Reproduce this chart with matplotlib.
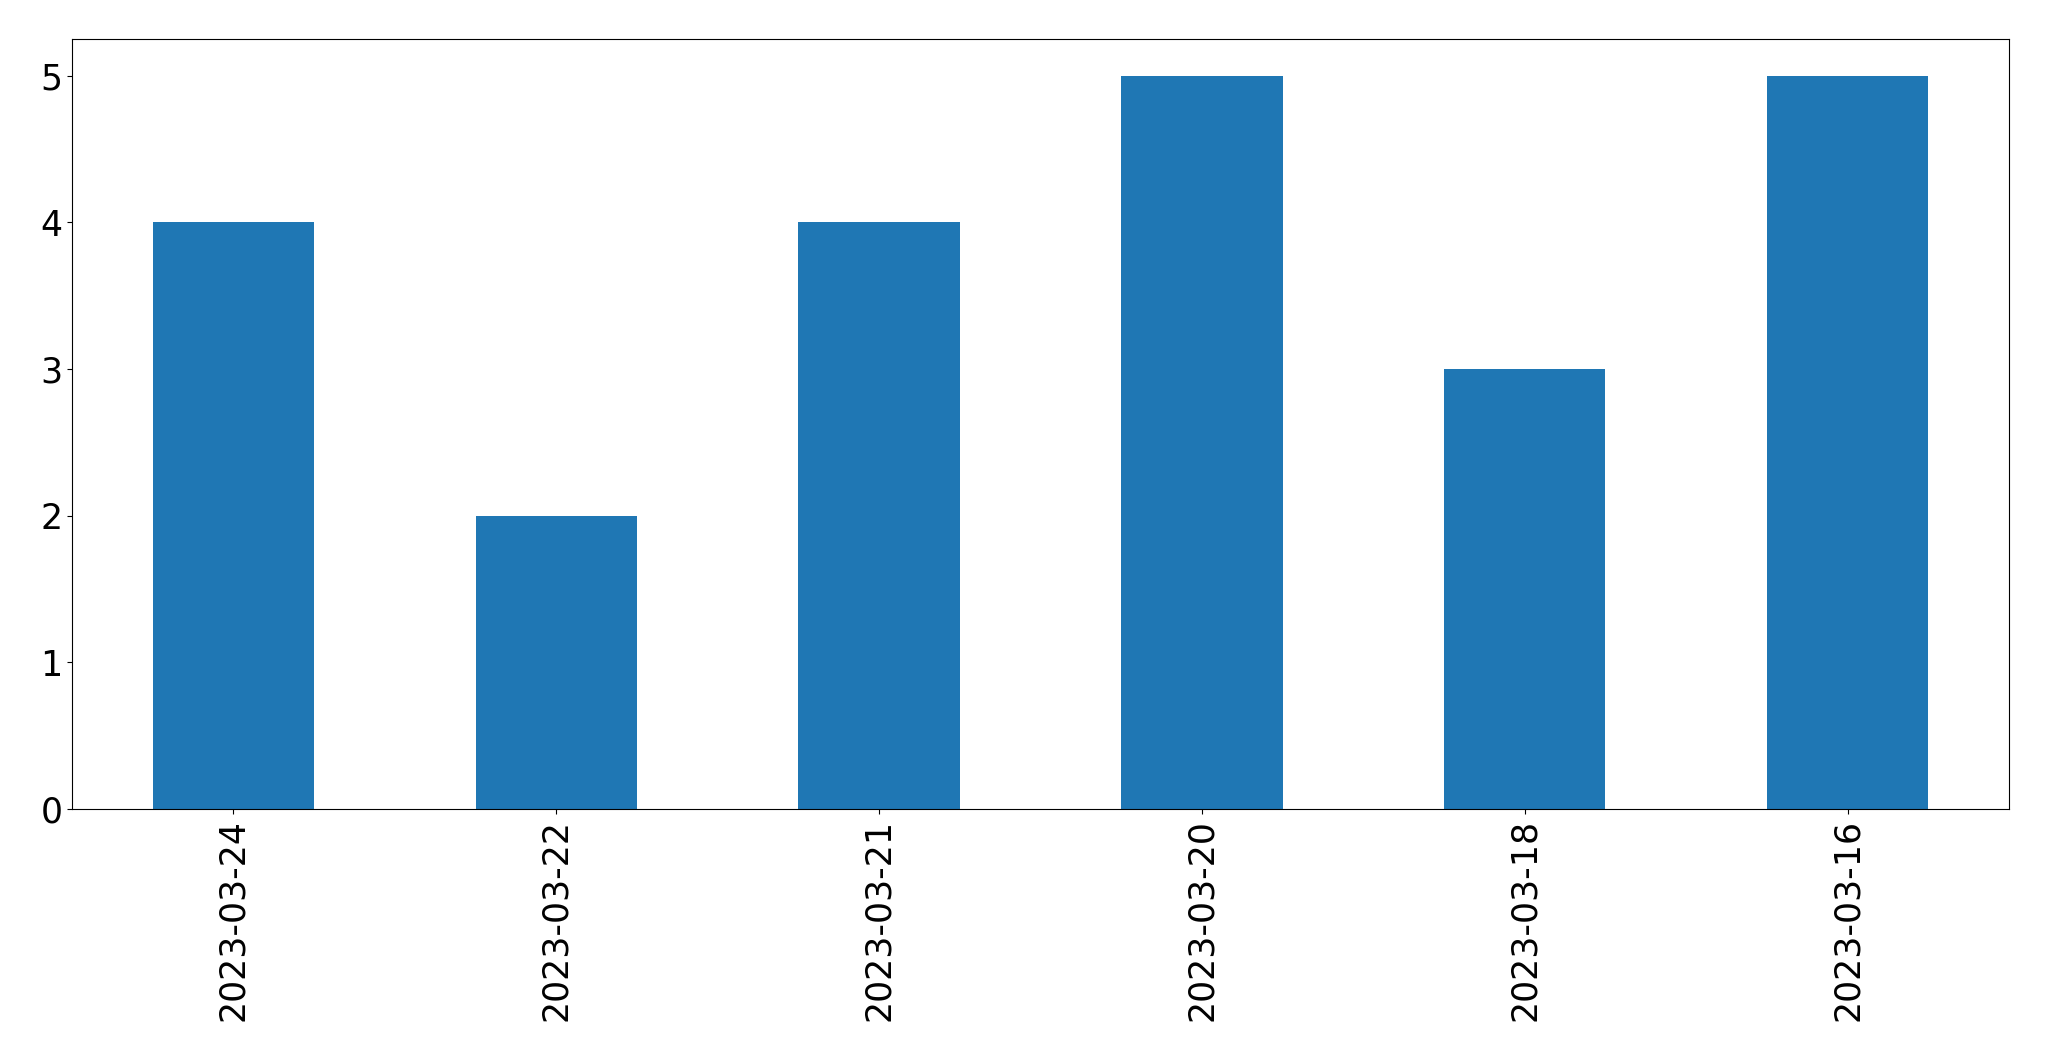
import matplotlib
matplotlib.use("Agg")
import matplotlib.pyplot as plt

dates = ["2023-03-24", "2023-03-22", "2023-03-21", "2023-03-20", "2023-03-18", "2023-03-16"]
counts = [4, 2, 4, 5, 3, 5]

fig = plt.figure(figsize=(20.49, 10.61), dpi=100)
ax = fig.add_axes([72/2049, 1-809/1061, (2009-72)/2049, (809-39)/1061])
x = list(range(len(dates)))
ax.bar(x, counts, width=0.5, color="#1f77b4")
ax.set_xlim(-0.5, len(dates)-0.5)
ax.set_ylim(0, max(counts)*1.05)
ax.set_xticks(x)
ax.set_xticklabels(dates, rotation=90)
ax.tick_params(labelsize=25)
fig.savefig("out.png", dpi=100)
